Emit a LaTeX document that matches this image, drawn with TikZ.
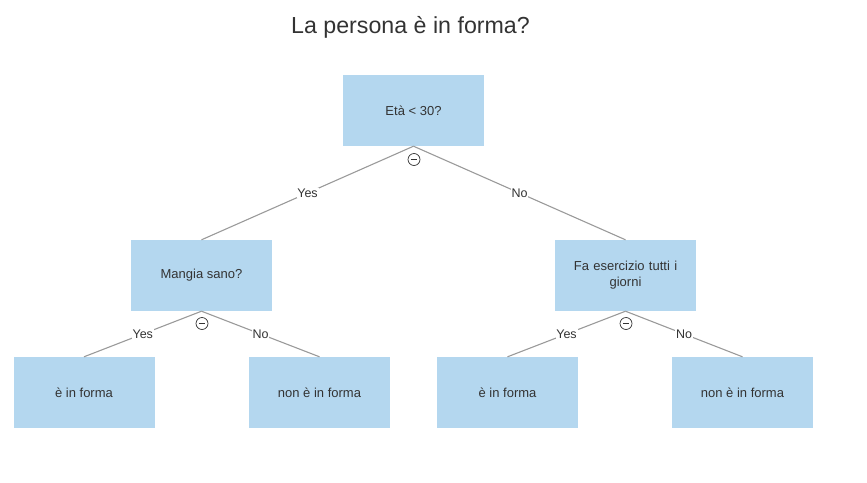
\documentclass[tikz,border=0pt]{standalone}
\usepackage{fontspec}
\setmainfont{Liberation Sans}
\definecolor{boxfill}{HTML}{B4D7EF}
\definecolor{txt}{HTML}{333333}
\definecolor{edge}{HTML}{9A9A9A}
\begin{document}
\begin{tikzpicture}[x=1pt,y=-1pt,
  dbox/.style={fill=boxfill,draw=none,minimum width=141pt,minimum height=71pt,inner sep=2pt,
    font=\fontsize{13}{16}\selectfont,text=txt,align=center},
  conn/.style={draw=edge,line width=1.1pt},
  lbl/.style={fill=white,inner sep=0.8pt,font=\fontsize{12.5}{14}\selectfont,text=txt},
  minus/.style={circle,draw=txt,line width=0.7pt,minimum size=12pt,inner sep=0pt,fill=white,
    path picture={\draw[txt,line width=0.7pt] ([xshift=-3.2pt]path picture bounding box.center) -- ([xshift=3.2pt]path picture bounding box.center);}}]
\useasboundingbox (0,0) rectangle (867,482);
\node[font=\fontsize{23.2}{28}\selectfont,text=txt] (title) at (410.5,27) {La persona è in forma?};
\node[dbox] (root) at (413.5,110.5) {Età < 30?};
\node[dbox] (mangia) at (201.5,275.5) {Mangia sano?};
\node[dbox,text width=125pt] (fa) at (625.5,275.5) {Fa esercizio tutti i\\giorni};
\node[dbox] (l1) at (84,392.5) {è in forma};
\node[dbox] (l2) at (319.5,392.5) {non è in forma};
\node[dbox] (l3) at (507.5,392.5) {è in forma};
\node[dbox] (l4) at (742.5,392.5) {non è in forma};
\draw[conn] (root.south) -- node[lbl] {Yes} (mangia.north);
\draw[conn] (root.south) -- node[lbl] {No} (fa.north);
\draw[conn] (mangia.south) -- node[lbl] {Yes} (l1.north);
\draw[conn] (mangia.south) -- node[lbl] {No} (l2.north);
\draw[conn] (fa.south) -- node[lbl] {Yes} (l3.north);
\draw[conn] (fa.south) -- node[lbl] {No} (l4.north);
\node[minus] (m1) at (414,159.5) {};
\node[minus] (m2) at (202,323.5) {};
\node[minus] (m3) at (626,323.5) {};
\end{tikzpicture}
\end{document}
